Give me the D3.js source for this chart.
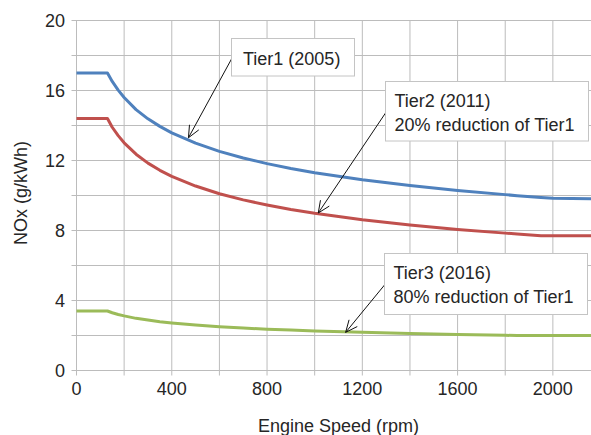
<!DOCTYPE html>
<html><head><meta charset="utf-8">
<script src="https://cdn.jsdelivr.net/npm/d3@7"></script>
<style>
html,body{margin:0;padding:0;background:#fff;}
svg{display:block;}
text{font-family:"Liberation Sans",Arial,Helvetica,sans-serif;fill:#262626;}
</style></head>
<body>
<script>
// ---- data ----
const rpm   = [0, 130, 150, 175, 200, 250, 300, 350, 400, 500, 600, 700, 800, 900, 1000, 1200, 1400, 1600, 1800, 1850, 1950, 2000, 2200];
const tier1 = [17.0, 17.0, 16.52, 16.02, 15.60, 14.91, 14.38, 13.95, 13.58, 12.99, 12.52, 12.14, 11.82, 11.54, 11.30, 10.90, 10.57, 10.29, 10.05, 9.99, 9.89, 9.84, 9.8];
const tier2 = [14.4, 14.4, 13.90, 13.42, 13.01, 12.36, 11.85, 11.44, 11.09, 10.54, 10.10, 9.75, 9.46, 9.20, 8.98, 8.61, 8.31, 8.06, 7.85, 7.80, 7.70, 7.70, 7.7];
const tier3 = [3.4, 3.4, 3.30, 3.20, 3.12, 2.98, 2.88, 2.79, 2.72, 2.60, 2.50, 2.43, 2.36, 2.31, 2.26, 2.18, 2.11, 2.06, 2.01, 2.0, 2.0, 2.0, 2.0];
const seriesNames  = ["Tier1", "Tier2", "Tier3"];
const seriesColors = ["#4f81bd", "#c0504d", "#9bbb59"];
const xTicks = [0, 400, 800, 1200, 1600, 2000];
const yTicks = [0, 4, 8, 12, 16, 20];
const xTitle = "Engine Speed (rpm)";
const yTitle = "NOx (g/kWh)";
const annotations = [
  {lines:["Tier1 (2005)"], tip:[470, 13.3], box:{x:231.5, y:38.5, w:123, h:37.5}, from:[231.5, 59]},
  {lines:["Tier2 (2011)", "20% reduction of Tier1"], tip:[1015, 9.0], box:{x:385.5, y:81.5, w:203, h:59.5}, from:[385.5, 113]},
  {lines:["Tier3 (2016)", "80% reduction of Tier1"], tip:[1130, 2.18], box:{x:384.5, y:253.5, w:203, h:61}, from:[384.5, 285]}
];

// ---- layout ----
const W = 591, H = 435;
const svg = d3.select("body").append("svg").attr("width", W).attr("height", H);
const x = d3.scaleLinear().domain([0, 2200]).range([76.5, 600.5]);
const y = d3.scaleLinear().domain([0, 20]).range([370.5, 20.5]);
const gridColor = "#bcbcbc";

// grid
const g = svg.append("g");
g.selectAll("line.v").data(d3.range(200, 2201, 200)).join("line")
  .attr("x1", d => x(d)).attr("x2", d => x(d)).attr("y1", y(20)).attr("y2", y(0) + 5)
  .attr("stroke", gridColor).attr("stroke-width", 1);
g.selectAll("line.h").data(d3.range(2, 20.1, 2)).join("line")
  .attr("x1", x(0) - 5).attr("x2", W).attr("y1", d => y(d)).attr("y2", d => y(d))
  .attr("stroke", gridColor).attr("stroke-width", 1);
// axes lines
g.append("line").attr("x1", x(0)).attr("x2", x(0)).attr("y1", y(20)).attr("y2", y(0) + 5)
  .attr("stroke", gridColor);
g.append("line").attr("x1", x(0) - 5).attr("x2", W).attr("y1", y(0)).attr("y2", y(0))
  .attr("stroke", gridColor);

// tick labels
svg.append("g").selectAll("text").data(xTicks).join("text")
  .attr("x", d => x(d)).attr("y", 395).attr("text-anchor", "middle")
  .attr("font-size", 18).text(d => d);
svg.append("g").selectAll("text").data(yTicks).join("text")
  .attr("x", 65).attr("y", d => y(d)).attr("dy", "0.36em").attr("text-anchor", "end")
  .attr("font-size", 18).text(d => d);

// axis titles
svg.append("text").attr("x", (x(0) + x(2200)) / 2).attr("y", 431.5).attr("text-anchor", "middle")
  .attr("font-size", 18).text(xTitle);
svg.append("text").attr("transform", "translate(27,193) rotate(-90)").attr("text-anchor", "middle")
  .attr("font-size", 18).text(yTitle);

// lines
const seriesData = [tier1, tier2, tier3];
const line = d3.line().x(d => x(d[0])).y(d => y(d[1]));
seriesData.forEach((vals, i) => {
  svg.append("path").datum(rpm.map((r, j) => [r, vals[j]]))
    .attr("fill", "none").attr("stroke", seriesColors[i]).attr("stroke-width", 3)
    .attr("stroke-linejoin", "round").attr("d", line);
});

// annotations
annotations.forEach(a => {
  const tx = x(a.tip[0]), ty = y(a.tip[1]);
  const [fx, fy] = a.from;
  svg.append("line").attr("x1", fx).attr("y1", fy).attr("x2", tx).attr("y2", ty)
    .attr("stroke", "#111").attr("stroke-width", 1);
  const ang = Math.atan2(ty - fy, tx - fx);
  const L = 13, spread = 0.42;
  [ang + Math.PI - spread, ang + Math.PI + spread].forEach(b => {
    svg.append("line").attr("x1", tx).attr("y1", ty)
      .attr("x2", tx + L * Math.cos(b)).attr("y2", ty + L * Math.sin(b))
      .attr("stroke", "#111").attr("stroke-width", 1);
  });
  svg.append("rect").attr("x", a.box.x).attr("y", a.box.y).attr("width", a.box.w).attr("height", a.box.h)
    .attr("fill", "#fff").attr("stroke", "#c4c4c4").attr("stroke-width", 1);
  a.lines.forEach((t, k) => {
    svg.append("text").attr("x", a.box.x + (a.lines.length > 1 ? 9 : 11.5))
      .attr("y", a.box.y + (a.lines.length > 1 ? 25.5 + k * 23.5 : 26))
      .attr("font-size", 18).text(t);
  });
});
</script>
</body></html>
